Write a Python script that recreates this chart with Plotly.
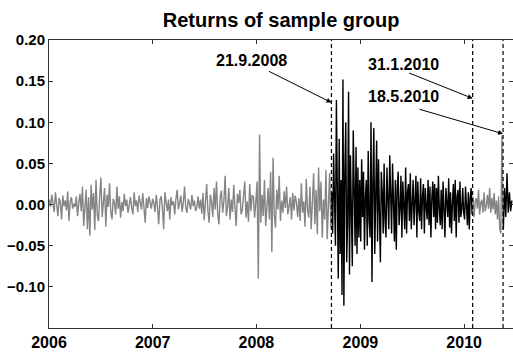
import pandas as pd
import plotly.graph_objects as go

# Returns in thousandths
gray1_start, gray1_end = "2006-01-02", "2008-09-19"
gray1 = [6,-3,12,2,-9,15,-4,-14,8,3,-18,11,-2,5,-7,16,-20,4,9,-5,1,
         -3,10,-14,2,13,-8,22,-26,5,18,-30,9,-38,24,-6,14,-31,30,-12,-20,10,
         33,-15,4,20,-27,12,-3,26,-9,-18,7,2,-12,22,-5,10,-16,3,-8,13,-2,
         6,-10,3,9,-4,-12,15,-2,5,-9,11,0,-6,14,-3,-22,8,-4,10,2,
         -5,7,2,-9,12,-3,-24,6,10,-4,-30,15,3,-8,6,-18,9,-1,4,-12,7,
         18,-6,3,11,-9,2,22,-4,-10,7,1,-6,12,-2,5,-8,-3,10,-5,6,-11,
         14,-19,4,25,-8,-22,12,3,-15,20,-6,28,-12,-24,9,17,-10,4,35,-14,-3,
         20,-18,6,-9,24,-4,-26,13,2,18,-12,-6,10,28,-16,4,-21,25,-8,11,
         10,-16,4,28,-90,85,-22,
         12,-14,30,-26,6,20,-18,40,-58,57,-12,-28,18,-6,35,-20,
         5,-10,16,-4,22,-12,-2,9,-18,14,-7,11,3,-15,
         8,-20,26,-10,4,-27,31,-6,-16,22,-30,12,38,-24,
         18,-36,45,-8,28,-40,6,-18,42,-42,15,38,-28]

black1_start, black1_end = "2008-09-22", "2010-01-29"
black1 = [15,-35,62,-20,-50,127,-30,-90,80,-60,30,-110,152,-123,40,100,-70,-20,137,-85,
          60,-40,-75,90,-10,-50,70,-60,45,-40,
          30,-45,55,-15,40,-55,10,30,-50,65,-20,-40,100,-94,25,93,-60,5,78,-45,
          55,-10,-70,40,15,-35,50,-20,
          -40,45,5,-30,60,-15,-35,50,10,-45,30,-55,20,40,-25,-5,35,-40,28,-10,
          -30,45,-35,15,25,-20,38,-30,
          12,30,-25,5,35,-40,28,-8,-20,32,-30,10,25,-35,20,-3,-18,30,-25,22,
          -40,8,28,-15,25,-30,20,-22,
          35,-5,-25,18,-30,28,-12,-40,20,5,-15,32,-28,15,-35,2,25,-20,30,-40,
          10,18,-22,28,-15,-5,20,-10,
          -18,22,-5,-25,15,-30,8,20,-12]

gray2_start, gray2_end = "2010-02-01", "2010-05-18"
gray2 = [10,-15,3,8,-5,18,-12,2,6,-10,15,-8,-2,12,-5,20,-10,8,-6,14,-12,5,-18,10,-30,-35,84,-25]

black2_start, black2_end = "2010-05-19", "2010-06-18"
black2 = [-30,20,-15,38,-10,15,-8,5]

event_dates = ["2008-09-21", "2010-01-31", "2010-05-18"]
event_labels = ["21.9.2008", "31.1.2010", "18.5.2010"]
year_ticks = ["2006-01-01", "2007-01-01", "2008-01-01", "2009-01-01", "2010-01-01"]
year_labels = ["2006", "2007", "2008", "2009", "2010"]
y_ticks = [-0.10, -0.05, 0.00, 0.05, 0.10, 0.15, 0.20]

FONT = "Liberation Sans"
GRAY = "#858585"

fig = go.Figure()
segments = [(gray1_start, gray1_end, gray1, GRAY),
            (black1_start, black1_end, black1, "#000000"),
            (gray2_start, gray2_end, gray2, GRAY),
            (black2_start, black2_end, black2, "#000000")]
for s, e, vals, col in segments:
    dates = pd.date_range(s, e, periods=len(vals))
    fig.add_trace(go.Scatter(x=dates, y=[v / 1000 for v in vals], mode="lines",
                             line=dict(color=col, width=1.4), showlegend=False,
                             hoverinfo="skip"))

# dummy trace for right-side ticks
fig.add_trace(go.Scatter(x=[year_ticks[0]], y=[0], yaxis="y2", mode="lines",
                         showlegend=False, line=dict(color="rgba(0,0,0,0)")))

for d in event_dates:
    fig.add_shape(type="line", xref="x", yref="paper", x0=d, x1=d, y0=0, y1=1,
                  line=dict(color="black", width=1.2, dash="4px,3px"))

arrow_y = [0.124, 0.129, 0.086]
arrow_off = [(-64, -32), (-65, -26), (-85, -25)]
text_pos = [("2007-12-16", 0.1745), ("2009-06-01", 0.170), ("2009-06-01", 0.131)]
for d, yv, (ax, ay), lab, (tx, ty) in zip(event_dates, arrow_y, arrow_off, event_labels, text_pos):
    fig.add_annotation(x=d, y=yv, xref="x", yref="y", text="", showarrow=True,
                       ax=ax, ay=ay, arrowhead=2, arrowsize=1, arrowwidth=1,
                       arrowcolor="black", standoff=0, startstandoff=0)
    fig.add_annotation(x=tx, y=ty, xref="x", yref="y", text=lab,
                       showarrow=False,
                       font=dict(family=FONT, size=16, color="black", weight="bold"))

fig.update_layout(
    width=513, height=356,
    margin=dict(l=49, r=0, t=40, b=28),
    plot_bgcolor="white", paper_bgcolor="white",
    title=dict(text="Returns of sample group", x=0.548, xanchor="center",
               y=0.945, yanchor="middle",
               font=dict(family=FONT, size=20, color="black", weight="bold")),
    xaxis=dict(range=["2006-01-01", "2010-06-22"], tickvals=year_ticks, ticktext=year_labels,
               ticks="inside", ticklen=4, tickcolor="#333", showline=True, linecolor="#333",
               linewidth=1, mirror="ticks", showgrid=False, zeroline=False,
               tickfont=dict(family=FONT, size=16, color="black", weight="bold")),
    yaxis=dict(range=[-0.15, 0.20], tickvals=y_ticks, tickformat=".2f", ticks="inside",
               ticklen=4, tickcolor="#333", showline=True, linecolor="#333", linewidth=1,
               showgrid=False, zeroline=False,
               tickfont=dict(family=FONT, size=15, color="black", weight="bold")),
    yaxis2=dict(range=[-0.15, 0.20], overlaying="y", side="right", tickvals=y_ticks,
                ticks="inside", ticklen=4, tickcolor="#333", showticklabels=False,
                showline=False, showgrid=False, zeroline=False),
)

fig.write_html("out.html")
